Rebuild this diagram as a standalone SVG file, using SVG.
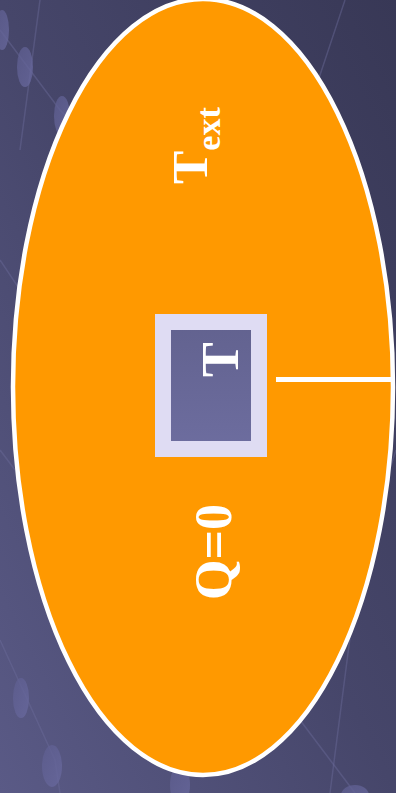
<svg xmlns="http://www.w3.org/2000/svg" width="396" height="793" viewBox="0 0 396 793">
<defs>
<linearGradient id="bg" x1="1" y1="0" x2="0" y2="1">
<stop offset="0" stop-color="#383856"/>
<stop offset="0.5" stop-color="#46466a"/>
<stop offset="1" stop-color="#5a5a86"/>
</linearGradient>
<linearGradient id="mol" x1="0" y1="0" x2="1" y2="1">
<stop offset="0" stop-color="#5e5e90"/>
<stop offset="1" stop-color="#6a6aa0"/>
</linearGradient>
<linearGradient id="inner" x1="0" y1="0" x2="0" y2="1">
<stop offset="0" stop-color="#62628f"/>
<stop offset="1" stop-color="#6d6d9f"/>
</linearGradient>
<style>
.deco{stroke:#6a6a98;stroke-width:1.5;fill:none;opacity:0.45}
.atom{fill:url(#mol);opacity:0.75}
.lbl{font-family:"Liberation Serif","Times New Roman",serif;font-weight:bold;fill:#ffffff}
</style>
</defs>
<rect width="396" height="793" fill="url(#bg)"/>
<g id="background-decor">
<path class="deco" d="M0 30 L60 110 L80 130"/>
<path class="deco" d="M40 0 L20 150"/>
<path class="deco" d="M0 260 L20 290"/>
<path class="deco" d="M0 450 L15 470"/>
<path class="deco" d="M0 640 L55 760 L60 793"/>
<path class="deco" d="M345 0 L305 120"/>
<path class="deco" d="M396 450 L360 560 L330 793"/>
<path class="deco" d="M300 720 L355 793"/>
<ellipse class="atom" cx="2" cy="30" rx="7" ry="20"/>
<ellipse class="atom" cx="25" cy="67" rx="8" ry="20"/>
<ellipse class="atom" cx="62" cy="116" rx="8" ry="20"/>
<ellipse class="atom" cx="21" cy="698" rx="8" ry="20"/>
<ellipse class="atom" cx="52" cy="766" rx="10" ry="21"/>
<ellipse class="atom" cx="180" cy="785" rx="10" ry="20"/>
<ellipse class="atom" cx="355" cy="795" rx="14" ry="10"/>
</g>
<g id="system">
<ellipse cx="203" cy="387" rx="190" ry="388" fill="#ff9900" stroke="#ffffff" stroke-width="4.5"/>
<text class="lbl" transform="translate(207,184) rotate(-90)" font-size="50">T<tspan font-size="34" dy="13">ext</tspan></text>
<text class="lbl" transform="translate(231,600) rotate(-90)" font-size="52">Q=0</text>
</g>
<g id="body">
<rect x="163" y="322" width="96" height="127" fill="url(#inner)" stroke="#dfdcf3" stroke-width="16"/>
<text class="lbl" transform="translate(238,377) rotate(-90)" font-size="52">T</text>
</g>
<g id="connectors">
<line x1="276" y1="379.5" x2="392" y2="379.5" stroke="#ffffff" stroke-width="5"/>
</g>
</svg>
